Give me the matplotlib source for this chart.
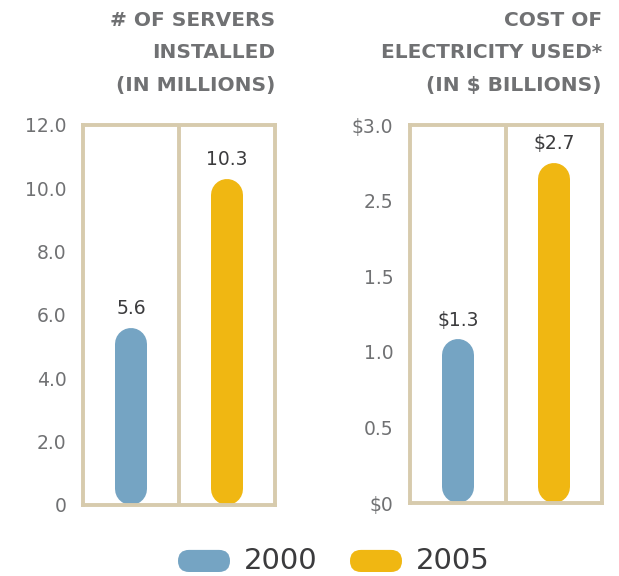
import numpy as np
import matplotlib.pyplot as plt
from matplotlib.patches import FancyBboxPatch

# Server counts and electricity cost, 2000 vs 2005
years = ['2000', '2005']
servers = [5.6, 10.3]
cost = [1.3, 2.7]
server_labels = ['5.6', '10.3']
cost_labels = ['$1.3', '$2.7']
server_ticks = [0, 2, 4, 6, 8, 10, 12]
server_ticklabels = ['0', '2.0', '4.0', '6.0', '8.0', '10.0', '12.0']
cost_ticklabels = ['$0', '0.5', '1.0', '1.5', '2.5', '$3.0']

colors = ['#75a4c3', '#f0b712']
frame = '#d7cbad'
grey = '#707173'
dark = '#3b3b3d'
num_font = 'DejaVu Sans'
title_font = 'DejaVu Sans'

W, H = 619, 576
fig = plt.figure(figsize=(W / 100, H / 100), dpi=100, facecolor='white')


def panel(rect, values, labels, ymax, ticks, ticklabels, title_lines):
    ax = fig.add_axes(rect)
    ax.set_xlim(-0.5, 1.5)
    ax.set_ylim(0, ymax)
    for s in ax.spines.values():
        s.set_color(frame)
        s.set_linewidth(2.8)
    ax.axvline(0.5, color=frame, lw=2.8)
    ax.set_xticks([])
    ax.set_yticks(ticks)
    ax.set_yticklabels(ticklabels, fontsize=13.5, color=grey, family=num_font)
    ax.tick_params(axis='y', length=0, pad=12)

    # rounded bars: thick lines with round caps, inset by the cap radius
    bar_px = 32
    px_per_unit = rect[3] * H / ymax
    r = bar_px / 2 / px_per_unit
    for i, (v, lab) in enumerate(zip(values, labels)):
        ax.plot([i, i], [r, v - r], color=colors[i], lw=bar_px * 0.72,
                solid_capstyle='round')
        ax.text(i, v + 19 / px_per_unit, lab, ha='center', va='center',
                fontsize=13.5, color=dark, family=num_font)

    right = rect[0] + rect[2]
    for line, ypx in zip(title_lines, [20, 52, 85]):
        fig.text(right, 1 - ypx / H, line, ha='right', va='center',
                 fontsize=14.5, fontweight='bold', color=grey,
                 family=title_font)
    return ax


panel([83 / W, 71 / H, 192 / W, 380 / H], servers, server_labels, 12,
      server_ticks, server_ticklabels,
      ['# OF SERVERS', 'INSTALLED', '(IN MILLIONS)'])
panel([410 / W, 73 / H, 192 / W, 378 / H], cost, cost_labels, 3.0,
      np.linspace(0, 3.0, 6), cost_ticklabels,
      ['COST OF', 'ELECTRICITY USED*', '(IN $ BILLIONS)'])

# legend with pill-shaped swatches
lax = fig.add_axes([0, 0, 1, 50 / H])
lax.set_xlim(0, W)
lax.set_ylim(0, 50)
lax.axis('off')
for i, (yr, x0) in enumerate(zip(years, [178, 350])):
    pill = FancyBboxPatch((x0 + 11, 4 + 11), 52 - 22, 0.1,
                          boxstyle='round,pad=11', fc=colors[i], ec='none')
    lax.add_patch(pill)
    lax.text(x0 + 66, 15, yr, ha='left', va='center', fontsize=21,
             color=dark, family=num_font)

fig.savefig('out.png', dpi=100, facecolor='white')
